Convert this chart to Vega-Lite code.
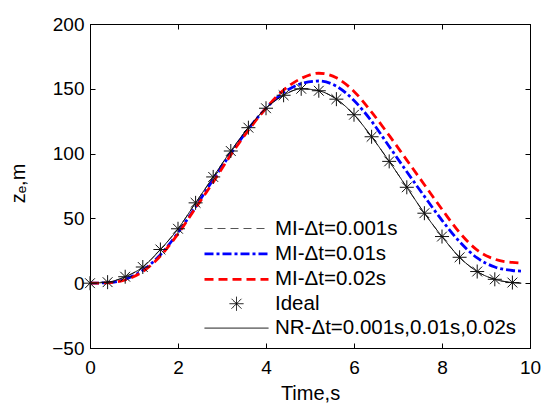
{
  "$schema": "https://vega.github.io/schema/vega-lite/v6.json",
  "width": 440,
  "height": 324,
  "autosize": {"type": "none"},
  "padding": {"left": 90, "top": 24, "right": 14, "bottom": 55},
  "background": "white",
  "config": {
    "font": "Liberation Sans",
    "view": {"stroke": "black", "strokeWidth": 1},
    "axis": {
      "domainColor": "black", "tickColor": "black", "labelColor": "black", "titleColor": "black",
      "labelFontSize": 19, "titleFontSize": 20, "titleFontWeight": "normal",
      "labelFont": "Liberation Sans", "titleFont": "Liberation Sans",
      "grid": false, "tickSize": -5, "labelFlush": false
    }
  },
  "data": {
    "values": [
      {"s": "MI-Δt=0.001s", "t": 0, "z": 0}, {"s": "MI-Δt=0.001s", "t": 0.4, "z": 0.8}, {"s": "MI-Δt=0.001s", "t": 0.8, "z": 5}, {"s": "MI-Δt=0.001s", "t": 1.2, "z": 12.5}, {"s": "MI-Δt=0.001s", "t": 1.6, "z": 26}, {"s": "MI-Δt=0.001s", "t": 2.0, "z": 42}, {"s": "MI-Δt=0.001s", "t": 2.4, "z": 62}, {"s": "MI-Δt=0.001s", "t": 2.8, "z": 82}, {"s": "MI-Δt=0.001s", "t": 3.2, "z": 102}, {"s": "MI-Δt=0.001s", "t": 3.6, "z": 120}, {"s": "MI-Δt=0.001s", "t": 4.0, "z": 135}, {"s": "MI-Δt=0.001s", "t": 4.4, "z": 145}, {"s": "MI-Δt=0.001s", "t": 4.8, "z": 150}, {"s": "MI-Δt=0.001s", "t": 5.2, "z": 148.5}, {"s": "MI-Δt=0.001s", "t": 5.6, "z": 142}, {"s": "MI-Δt=0.001s", "t": 6.0, "z": 130}, {"s": "MI-Δt=0.001s", "t": 6.4, "z": 113}, {"s": "MI-Δt=0.001s", "t": 6.8, "z": 94}, {"s": "MI-Δt=0.001s", "t": 7.2, "z": 74}, {"s": "MI-Δt=0.001s", "t": 7.6, "z": 54}, {"s": "MI-Δt=0.001s", "t": 8.0, "z": 36}, {"s": "MI-Δt=0.001s", "t": 8.4, "z": 20}, {"s": "MI-Δt=0.001s", "t": 8.8, "z": 9}, {"s": "MI-Δt=0.001s", "t": 9.2, "z": 3}, {"s": "MI-Δt=0.001s", "t": 9.6, "z": 0.5}, {"s": "MI-Δt=0.001s", "t": 9.8, "z": 0},
      {"s": "MI-Δt=0.01s", "t": 0, "z": 0}, {"s": "MI-Δt=0.01s", "t": 0.4, "z": 0.4}, {"s": "MI-Δt=0.01s", "t": 0.8, "z": 3}, {"s": "MI-Δt=0.01s", "t": 1.2, "z": 10}, {"s": "MI-Δt=0.01s", "t": 1.6, "z": 22}, {"s": "MI-Δt=0.01s", "t": 2.0, "z": 39}, {"s": "MI-Δt=0.01s", "t": 2.4, "z": 59}, {"s": "MI-Δt=0.01s", "t": 2.8, "z": 80}, {"s": "MI-Δt=0.01s", "t": 3.2, "z": 100}, {"s": "MI-Δt=0.01s", "t": 3.6, "z": 119}, {"s": "MI-Δt=0.01s", "t": 4.0, "z": 135}, {"s": "MI-Δt=0.01s", "t": 4.4, "z": 147}, {"s": "MI-Δt=0.01s", "t": 4.8, "z": 154}, {"s": "MI-Δt=0.01s", "t": 5.2, "z": 156}, {"s": "MI-Δt=0.01s", "t": 5.6, "z": 152}, {"s": "MI-Δt=0.01s", "t": 6.0, "z": 141}, {"s": "MI-Δt=0.01s", "t": 6.4, "z": 125}, {"s": "MI-Δt=0.01s", "t": 6.8, "z": 105.5}, {"s": "MI-Δt=0.01s", "t": 7.2, "z": 86}, {"s": "MI-Δt=0.01s", "t": 7.6, "z": 67}, {"s": "MI-Δt=0.01s", "t": 8.0, "z": 48.5}, {"s": "MI-Δt=0.01s", "t": 8.4, "z": 32}, {"s": "MI-Δt=0.01s", "t": 8.8, "z": 19.5}, {"s": "MI-Δt=0.01s", "t": 9.2, "z": 12.5}, {"s": "MI-Δt=0.01s", "t": 9.6, "z": 9.8}, {"s": "MI-Δt=0.01s", "t": 9.8, "z": 9.3},
      {"s": "MI-Δt=0.02s", "t": 0, "z": 0}, {"s": "MI-Δt=0.02s", "t": 0.4, "z": 0.3}, {"s": "MI-Δt=0.02s", "t": 0.8, "z": 2.5}, {"s": "MI-Δt=0.02s", "t": 1.2, "z": 9}, {"s": "MI-Δt=0.02s", "t": 1.6, "z": 21}, {"s": "MI-Δt=0.02s", "t": 2.0, "z": 38}, {"s": "MI-Δt=0.02s", "t": 2.4, "z": 58}, {"s": "MI-Δt=0.02s", "t": 2.8, "z": 78}, {"s": "MI-Δt=0.02s", "t": 3.2, "z": 99}, {"s": "MI-Δt=0.02s", "t": 3.6, "z": 118}, {"s": "MI-Δt=0.02s", "t": 4.0, "z": 135}, {"s": "MI-Δt=0.02s", "t": 4.4, "z": 149}, {"s": "MI-Δt=0.02s", "t": 4.8, "z": 158}, {"s": "MI-Δt=0.02s", "t": 5.2, "z": 162}, {"s": "MI-Δt=0.02s", "t": 5.6, "z": 158.5}, {"s": "MI-Δt=0.02s", "t": 6.0, "z": 148}, {"s": "MI-Δt=0.02s", "t": 6.4, "z": 132}, {"s": "MI-Δt=0.02s", "t": 6.8, "z": 114}, {"s": "MI-Δt=0.02s", "t": 7.2, "z": 95}, {"s": "MI-Δt=0.02s", "t": 7.6, "z": 76}, {"s": "MI-Δt=0.02s", "t": 8.0, "z": 57}, {"s": "MI-Δt=0.02s", "t": 8.4, "z": 39}, {"s": "MI-Δt=0.02s", "t": 8.8, "z": 25.5}, {"s": "MI-Δt=0.02s", "t": 9.2, "z": 18.5}, {"s": "MI-Δt=0.02s", "t": 9.6, "z": 16}, {"s": "MI-Δt=0.02s", "t": 9.8, "z": 15.5},
      {"s": "NR-Δt=0.001s,0.01s,0.02s", "t": 0, "z": 0}, {"s": "NR-Δt=0.001s,0.01s,0.02s", "t": 0.4, "z": 0.8}, {"s": "NR-Δt=0.001s,0.01s,0.02s", "t": 0.8, "z": 5}, {"s": "NR-Δt=0.001s,0.01s,0.02s", "t": 1.2, "z": 12.5}, {"s": "NR-Δt=0.001s,0.01s,0.02s", "t": 1.6, "z": 26}, {"s": "NR-Δt=0.001s,0.01s,0.02s", "t": 2.0, "z": 42}, {"s": "NR-Δt=0.001s,0.01s,0.02s", "t": 2.4, "z": 62}, {"s": "NR-Δt=0.001s,0.01s,0.02s", "t": 2.8, "z": 82}, {"s": "NR-Δt=0.001s,0.01s,0.02s", "t": 3.2, "z": 102}, {"s": "NR-Δt=0.001s,0.01s,0.02s", "t": 3.6, "z": 120}, {"s": "NR-Δt=0.001s,0.01s,0.02s", "t": 4.0, "z": 135}, {"s": "NR-Δt=0.001s,0.01s,0.02s", "t": 4.4, "z": 145}, {"s": "NR-Δt=0.001s,0.01s,0.02s", "t": 4.8, "z": 150}, {"s": "NR-Δt=0.001s,0.01s,0.02s", "t": 5.2, "z": 148.5}, {"s": "NR-Δt=0.001s,0.01s,0.02s", "t": 5.6, "z": 142}, {"s": "NR-Δt=0.001s,0.01s,0.02s", "t": 6.0, "z": 130}, {"s": "NR-Δt=0.001s,0.01s,0.02s", "t": 6.4, "z": 113}, {"s": "NR-Δt=0.001s,0.01s,0.02s", "t": 6.8, "z": 94}, {"s": "NR-Δt=0.001s,0.01s,0.02s", "t": 7.2, "z": 74}, {"s": "NR-Δt=0.001s,0.01s,0.02s", "t": 7.6, "z": 54}, {"s": "NR-Δt=0.001s,0.01s,0.02s", "t": 8.0, "z": 36}, {"s": "NR-Δt=0.001s,0.01s,0.02s", "t": 8.4, "z": 20}, {"s": "NR-Δt=0.001s,0.01s,0.02s", "t": 8.8, "z": 9}, {"s": "NR-Δt=0.001s,0.01s,0.02s", "t": 9.2, "z": 3}, {"s": "NR-Δt=0.001s,0.01s,0.02s", "t": 9.6, "z": 0.5}, {"s": "NR-Δt=0.001s,0.01s,0.02s", "t": 9.8, "z": 0},
      {"s": "Ideal", "t": 0, "z": 0}, {"s": "Ideal", "t": 0.4, "z": 0.8}, {"s": "Ideal", "t": 0.8, "z": 5}, {"s": "Ideal", "t": 1.2, "z": 12.5}, {"s": "Ideal", "t": 1.6, "z": 26}, {"s": "Ideal", "t": 2.0, "z": 42}, {"s": "Ideal", "t": 2.4, "z": 62}, {"s": "Ideal", "t": 2.8, "z": 82}, {"s": "Ideal", "t": 3.2, "z": 102}, {"s": "Ideal", "t": 3.6, "z": 120}, {"s": "Ideal", "t": 4.0, "z": 135}, {"s": "Ideal", "t": 4.4, "z": 145}, {"s": "Ideal", "t": 4.8, "z": 150}, {"s": "Ideal", "t": 5.2, "z": 148.5}, {"s": "Ideal", "t": 5.6, "z": 142}, {"s": "Ideal", "t": 6.0, "z": 130}, {"s": "Ideal", "t": 6.4, "z": 113}, {"s": "Ideal", "t": 6.8, "z": 94}, {"s": "Ideal", "t": 7.2, "z": 74}, {"s": "Ideal", "t": 7.6, "z": 54}, {"s": "Ideal", "t": 8.0, "z": 36}, {"s": "Ideal", "t": 8.4, "z": 20}, {"s": "Ideal", "t": 8.8, "z": 9}, {"s": "Ideal", "t": 9.2, "z": 3}, {"s": "Ideal", "t": 9.6, "z": 0.5}
    ]
  },
  "resolve": {"axis": {"x": "independent", "y": "independent"}},
  "layer": [
    {
      "transform": [{"filter": "datum.s !== 'Ideal'"}],
      "mark": {"type": "line", "interpolate": "monotone"},
      "encoding": {
        "x": {"field": "t", "type": "quantitative", "scale": {"domain": [0, 10], "nice": false},
          "axis": {"orient": "bottom", "values": [0, 2, 4, 6, 8, 10], "title": "Time,s", "labelPadding": 15.6, "titleY": 51, "titleBaseline": "alphabetic"}},
        "y": {"field": "z", "type": "quantitative", "scale": {"domain": [-50, 200], "nice": false, "zero": false},
          "axis": {"orient": "left", "values": [-50, 0, 50, 100, 150, 200], "title": "zₑ,m", "labelPadding": 11, "titleX": -66, "titleY": 159, "titleBaseline": "alphabetic", "titleAngle": -90}},
        "color": {"field": "s", "type": "nominal",
          "scale": {"domain": ["MI-Δt=0.001s", "MI-Δt=0.01s", "MI-Δt=0.02s", "Ideal", "NR-Δt=0.001s,0.01s,0.02s"], "range": ["#555555", "#0000ff", "#ff0000", "#000000", "#000000"]},
          "legend": {"orient": "none", "legendX": 135, "legendY": 194, "title": null,
            "symbolType": "M-3.2,0L3.2,0", "symbolSize": 400, "labelLimit": 0,
            "labelFontSize": 20.5, "labelFont": "Liberation Sans", "labelColor": "black", "labelOffset": 27, "rowPadding": 3.4, "padding": 0,
            "encode": {"symbols": {"update": {
              "shape": {"signal": "datum.value === 'Ideal' ? 'M-1,0L1,0M0,-1L0,1M-0.7,-0.7L0.7,0.7M-0.7,0.7L0.7,-0.7' : 'M-3.2,0L3.2,0'"},
              "size": {"signal": "datum.value === 'Ideal' ? 196 : 400"}
            }}}}},
        "strokeDash": {"field": "s", "type": "nominal",
          "scale": {"domain": ["MI-Δt=0.001s", "MI-Δt=0.01s", "MI-Δt=0.02s", "Ideal", "NR-Δt=0.001s,0.01s,0.02s"], "range": [[8, 5], [9, 3, 3, 3], [9, 5], [1, 0], [1, 0]]}},
        "strokeWidth": {"field": "s", "type": "nominal",
          "scale": {"type": "ordinal", "domain": ["MI-Δt=0.001s", "MI-Δt=0.01s", "MI-Δt=0.02s", "Ideal", "NR-Δt=0.001s,0.01s,0.02s"], "range": [1, 2.8, 2.8, 1, 1]}}
      }
    },
    {
      "transform": [{"filter": "datum.s === 'Ideal'"}],
      "mark": {"type": "point", "shape": "M-1,0L1,0M0,-1L0,1M-0.7,-0.7L0.7,0.7M-0.7,0.7L0.7,-0.7", "filled": false, "stroke": "#111111", "strokeWidth": 1, "size": 196, "opacity": 1},
      "encoding": {
        "x": {"field": "t", "type": "quantitative", "axis": {"orient": "top", "values": [0, 2, 4, 6, 8, 10], "labels": false, "title": null}},
        "y": {"field": "z", "type": "quantitative", "axis": {"orient": "right", "values": [-50, 0, 50, 100, 150, 200], "labels": false, "title": null}}
      }
    }
  ]
}
